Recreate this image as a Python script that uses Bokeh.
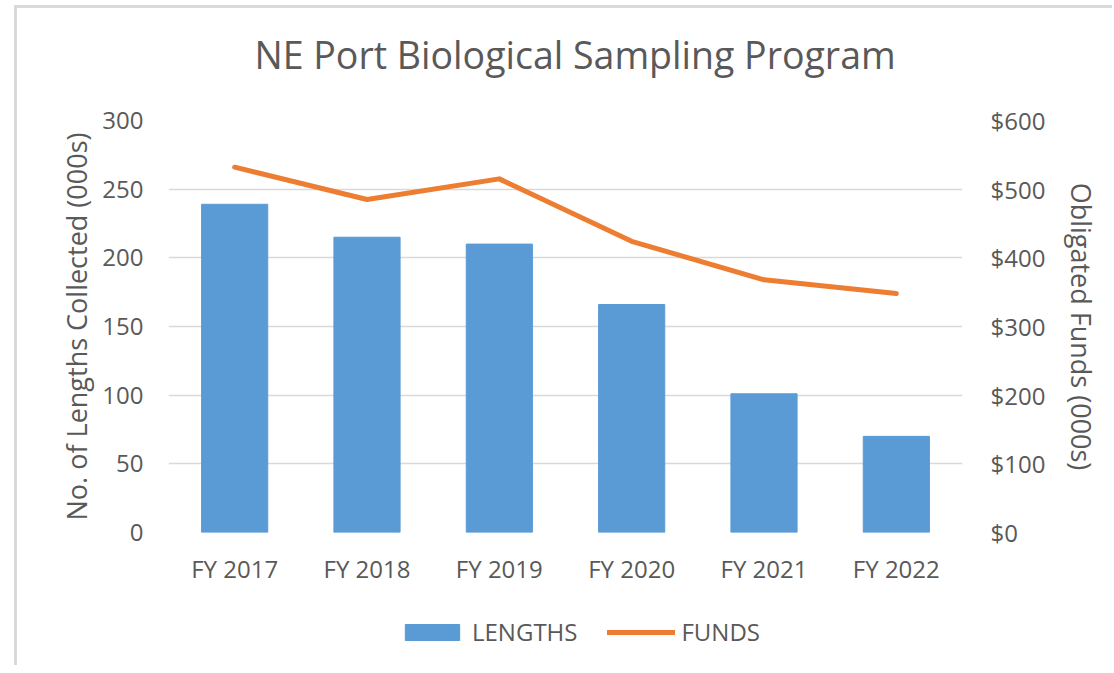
from bokeh.plotting import figure
from bokeh.layouts import column
from bokeh.models import (FactorRange, Range1d, LinearAxis, NumeralTickFormatter,
                          Legend, LegendItem, ColumnDataSource, FixedTicker)
from bokeh.embed import file_html
from bokeh.resources import INLINE

categories = ["FY 2017", "FY 2018", "FY 2019", "FY 2020", "FY 2021", "FY 2022"]
lengths = [239, 215, 210, 166, 101, 70]          # thousands of lengths
funds = [532, 485, 515, 424, 368, 348]            # $ thousands
left_ticks = [0, 50, 100, 150, 200, 250, 300]
right_ticks = [0, 100, 200, 300, 400, 500, 600]

FONT = "Open Sans"
TXT = "#595959"
GRID = "#d9d9d9"
BAR = "#5b9bd5"
LINE = "#ed7d31"
W = 1095
MBL, MBR = 151, 150

src = ColumnDataSource(dict(cat=categories, lengths=lengths, funds=funds))

# ---- title strip ----
p0 = figure(width=W, height=92, output_backend="svg", toolbar_location=None,
            x_axis_location=None, y_axis_location=None,
            min_border_left=MBL, min_border_right=MBR, min_border_top=0, min_border_bottom=0,
            title="NE Port Biological Sampling Program",
            x_range=Range1d(0, 1), y_range=Range1d(0, 1))
p0.outline_line_color = None
p0.grid.visible = False
p0.title.text_font = FONT
p0.title.text_font_size = "37.5px"
p0.title.text_font_style = "normal"
p0.title.text_color = TXT
p0.title.align = "left"
p0.title.offset = 86
p0.title.standoff = 37

# ---- main chart ----
p = figure(width=W, height=508, x_range=FactorRange(*categories, range_padding=0),
           y_range=Range1d(0, 300), output_backend="svg", toolbar_location=None,
           min_border_left=MBL, min_border_right=MBR, min_border_top=20,
           min_border_bottom=76, title=None)
p.x_range.range_padding = 0
p.extra_y_ranges = {"funds": Range1d(0, 600)}
p.outline_line_color = None

p.xgrid.grid_line_color = None
p.ygrid.grid_line_color = GRID
p.ygrid.grid_line_width = 1.5
p.yaxis.ticker = FixedTicker(ticks=left_ticks)

bars = p.vbar(x="cat", top="lengths", width=0.5, source=src, color=BAR)
line = p.line(x="cat", y="funds", source=src, color=LINE, line_width=5,
              line_cap="round", line_join="round", y_range_name="funds")

ya = p.yaxis[0]
ya.axis_label = "No. of Lengths Collected (000s)"
ya.axis_line_color = None
ya.major_tick_line_color = None
ya.minor_tick_line_color = None
ya.major_tick_out = 0
ya.minor_tick_out = 0
ya.major_label_standoff = 25
ya.axis_label_standoff = 4
ya.major_label_text_font = FONT
ya.major_label_text_font_size = "24px"
ya.major_label_text_color = TXT
ya.axis_label_text_font = FONT
ya.axis_label_text_font_size = "27px"
ya.axis_label_text_font_style = "normal"
ya.axis_label_text_color = TXT

# right tick labels
ra = LinearAxis(y_range_name="funds", ticker=FixedTicker(ticks=right_ticks),
                formatter=NumeralTickFormatter(format="$0"))
ra.axis_line_color = None
ra.major_tick_line_color = None
ra.minor_tick_line_color = None
ra.major_tick_out = 0
ra.minor_tick_out = 0
ra.major_label_standoff = 28
ra.major_label_text_font = FONT
ra.major_label_text_font_size = "24px"
ra.major_label_text_color = TXT
p.add_layout(ra, "right")

# right axis title
rl = LinearAxis(y_range_name="funds", ticker=FixedTicker(ticks=[]),
                axis_label="Obligated Funds (000s)")
rl.axis_line_color = None
rl.major_tick_line_color = None
rl.minor_tick_line_color = None
rl.major_tick_out = 0
rl.minor_tick_out = 0
rl.major_label_standoff = 0
rl.axis_label_standoff = 14
rl.axis_label_text_font = FONT
rl.axis_label_text_font_size = "27px"
rl.axis_label_text_font_style = "normal"
rl.axis_label_text_color = TXT
p.add_layout(rl, "right")

xa = p.xaxis[0]
xa.axis_line_color = None
xa.major_tick_line_color = None
xa.minor_tick_line_color = None
xa.major_tick_out = 0
xa.minor_tick_out = 0
xa.major_label_standoff = 19
xa.major_label_text_font = FONT
xa.major_label_text_font_size = "24px"
xa.major_label_text_color = TXT

# ---- legend strip ----
p2 = figure(width=W, height=57, output_backend="svg", toolbar_location=None,
            x_axis_location=None, y_axis_location=None,
            min_border_left=MBL, min_border_right=MBR, min_border_top=0, min_border_bottom=0,
            x_range=Range1d(0, 1), y_range=Range1d(0, 1))
p2.outline_line_color = None
p2.grid.visible = False
swatch = ColumnDataSource(dict(x=[-10], top=[-10], y=[-10]))  # off-range, legend swatches only
lb = p2.vbar(x="x", top="top", width=0.5, source=swatch, color=BAR)
ll = p2.line(x="x", y="y", source=swatch, color=LINE, line_width=5, line_cap="round")
legend = Legend(items=[LegendItem(label="LENGTHS", renderers=[lb]),
                       LegendItem(label="FUNDS", renderers=[ll])],
                location=(230, 17), orientation="horizontal",
                padding=0, margin=0, spacing=30, label_standoff=6,
                glyph_width=68, glyph_height=20, label_height=16,
                border_line_color=None, background_fill_alpha=0,
                label_text_font=FONT, label_text_font_size="24px",
                label_text_color=TXT)
p2.add_layout(legend, "center")

layout = column(p0, p, p2, spacing=0,
                styles={"margin-left": "14px", "margin-top": "5px",
                        "border-left": f"3px solid {GRID}",
                        "border-top": f"3px solid {GRID}"})

open("out.html", "w").write(file_html(layout, INLINE))
